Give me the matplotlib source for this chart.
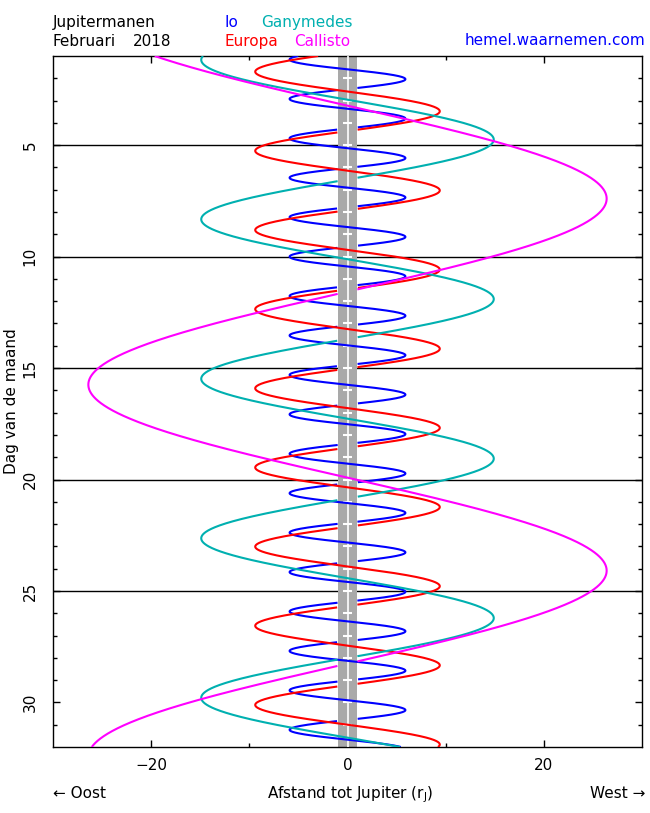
import numpy as np
import matplotlib.pyplot as plt

# manen van Jupiter
moons = ['Io', 'Europa', 'Ganymedes', 'Callisto']
colors = ['#0000ff', '#ff0000', '#00b0b0', '#ff00ff']
amplitude = [5.9, 9.4, 14.9, 26.4]        # grootste elongatie (r_J)
period = [1.769, 3.551, 7.155, 16.689]    # omlooptijd (dagen)
west_elong = [2.04, 3.48, 4.75, 7.4]      # dag van een westelijke elongatie

day_min, day_max = 1, 32
marked_days = [5, 10, 15, 20, 25]
day_ticks = [5, 10, 15, 20, 25, 30]
x_ticks = [-20, 0, 20]

plt.rcParams['font.family'] = 'DejaVu Sans'
plt.rcParams['mathtext.default'] = 'regular'

W, H = 650, 813
fig = plt.figure(figsize=(W / 100, H / 100), dpi=100)
ax = fig.add_axes([53 / W, 1 - 747 / H, (642 - 53) / W, (747 - 56) / H])

# horizontale lijnen elke 5 dagen
ax.hlines(marked_days, -30, 30, color='black', lw=1, zorder=1)

# Jupiter schijf
ax.axvspan(-1, 1, color='#a9a9a9', lw=0, zorder=2)
ax.axvline(0, color='white', lw=1.2, zorder=3)
ax.hlines(np.arange(day_min + 1, day_max), -0.45, 0.45, color='white', lw=1.5, zorder=3)

t = np.linspace(day_min, day_max, 8000)
for name, col, a, p, t0 in zip(moons, colors, amplitude, period, west_elong):
    ph = 2 * np.pi * (t - t0) / p
    x = a * np.cos(ph)
    # achter Jupiter (beweging naar oost) niet tekenen
    behind = (np.abs(x) < 1) & (np.sin(ph) > 0)
    x = np.where(behind, np.nan, x)
    ax.plot(x, t, color=col, lw=1.5, zorder=4, solid_capstyle='butt')

ax.set_xlim(-30, 30)
ax.set_ylim(day_max, day_min)
ax.set_xticks(x_ticks)
ax.set_xticklabels(['\u221220', '0', '20'])
ax.set_xticks([-10, 10], minor=True)
ax.set_yticks(day_ticks)
ax.set_yticklabels([str(d) for d in day_ticks], rotation=90, va='center')
ax.set_yticks(np.arange(day_min + 1, day_max), minor=True)
ax.tick_params(which='both', direction='in', top=True, right=True, labelsize=11)
ax.tick_params(which='major', length=5, width=1)
ax.tick_params(which='minor', length=3, width=1)
ax.tick_params(axis='x', pad=8)
ax.tick_params(axis='y', pad=11)
for s in ax.spines.values():
    s.set_linewidth(1)

fs = 11
def ftext(px, py, s, **kw):
    fig.text(px / W, 1 - py / H, s, fontsize=fs, va='baseline', **kw)

ftext(53, 27, 'Jupitermanen')
ftext(53, 46, 'Februari')
ftext(133, 46, '2018')
ftext(225, 27, 'Io', color=colors[0])
ftext(261, 27, 'Ganymedes', color=colors[2])
ftext(225, 46, 'Europa', color=colors[1])
ftext(294, 46, 'Callisto', color=colors[3])
ftext(645, 45, 'hemel.waarnemen.com', color='#0000ff', ha='right')

ftext(53, 798, '\u2190 Oost')
ftext(350, 798, 'Afstand tot Jupiter (r$_J$)', ha='center')
ftext(645, 798, 'West \u2192', ha='right')
fig.text(12 / W, 1 - 401 / H, 'Dag van de maand', fontsize=fs, rotation=90,
         ha='center', va='center')

fig.savefig('out.png', dpi=100)
